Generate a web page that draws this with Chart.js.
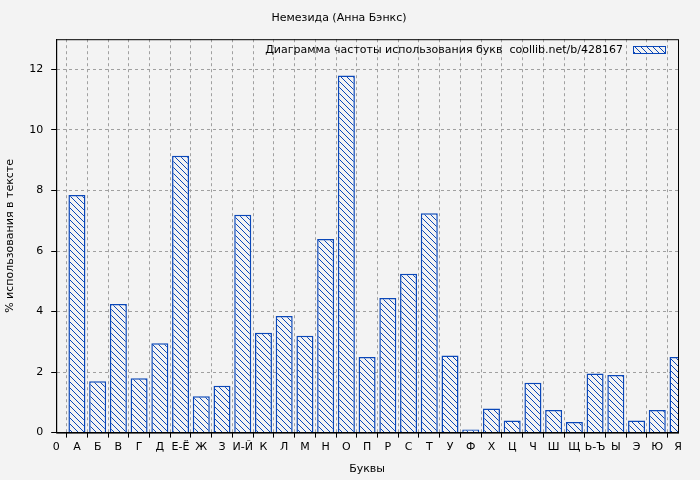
<!DOCTYPE html>
<html><head><meta charset="utf-8">
<script src="https://cdn.jsdelivr.net/npm/chart.js@4/dist/chart.umd.min.js"></script>
<style>
html,body{margin:0;padding:0;background:#f3f3f3;}
#wrap{width:700px;height:480px;position:relative;}
</style></head>
<body><div id="wrap"><canvas id="c" width="700" height="480"></canvas></div>
<script>
const letters = ["0","А","Б","В","Г","Д","Е-Ё","Ж","З","И-Й","К","Л","М","Н","О","П","Р","С","Т","У","Ф","Х","Ц","Ч","Ш","Щ","Ь-Ъ","Ы","Э","Ю","Я"];
const freq = [7.85,1.7,4.25,1.8,2.95,9.15,1.2,1.55,7.2,3.3,3.85,3.2,6.4,11.8,2.5,4.45,5.25,7.25,2.55,0.1,0.8,0.4,1.65,0.75,0.35,1.95,1.9,0.4,0.75,2.5];
const yTicks = [0,2,4,6,8,10,12];
const legendText = "Диаграмма частоты использования букв  coollib.net/b/428167";

const BLUE = "#0a47b8";
function hatch() {
  const p = document.createElement("canvas");
  p.width = 6; p.height = 6;
  const g = p.getContext("2d");
  g.fillStyle = "#f3f3f3"; g.fillRect(0, 0, 6, 6);
  g.strokeStyle = BLUE; g.lineWidth = 1;
  g.beginPath();
  g.moveTo(0, 0); g.lineTo(6, 6);
  g.moveTo(-3, 3); g.lineTo(3, 9);
  g.moveTo(3, -3); g.lineTo(9, 3);
  g.stroke();
  return document.getElementById("c").getContext("2d").createPattern(p, "repeat");
}
const pat = hatch();
const FONT = "DejaVu Sans";

const legendPlugin = {
  id: "legendBox",
  afterDraw(chart) {
    const { ctx, chartArea: a } = chart;
    ctx.save();
    ctx.font = "11px " + FONT;
    ctx.fillStyle = "#000";
    ctx.textAlign = "right"; ctx.textBaseline = "middle";
    ctx.fillText(legendText, a.right - 55, 50);
    ctx.fillStyle = pat;
    ctx.fillRect(a.right - 45, 46, 32, 7);
    ctx.strokeStyle = BLUE; ctx.lineWidth = 1;
    ctx.strokeRect(a.right - 45 + 0.5, 46.5, 32, 7);
    ctx.strokeStyle = "#000";
    ctx.strokeRect(a.left + 0.5, a.top + 0.5, a.right - a.left, a.bottom - a.top);
    ctx.restore();
  }
};

new Chart(document.getElementById("c"), {
  type: "bar",
  data: {
    datasets: [{
      data: freq.map((v, i) => ({ x: i + 1, y: v })),
      backgroundColor: pat, borderColor: BLUE, borderWidth: 1.5,
      barPercentage: 0.82, categoryPercentage: 1
    }]
  },
  options: {
    responsive: false, animation: false,
    layout: { padding: { left: 0, right: 22, top: 0, bottom: 0 } },
    plugins: {
      legend: { display: false }, tooltip: { enabled: false },
      title: { display: true, text: "Немезида (Анна Бэнкс)", color: "#000",
        font: { family: FONT, size: 11, weight: "normal" }, padding: { top: 12, bottom: 14 } }
    },
    scales: {
      x: {
        type: "linear", min: 0, max: 30, offset: false,
        grid: { color: "#a0a0a0", borderDash: [3, 3], tickColor: "#000", tickLength: 5, drawTicks: true },
        border: { color: "#000", dash: [3, 3] },
        ticks: { stepSize: 1, autoSkip: false, maxRotation: 0, color: "#000", font: { family: FONT, size: 11 },
          callback: v => letters[v] },
        title: { display: true, text: "Буквы", color: "#000", font: { family: FONT, size: 11 }, padding: { top: 6 } }
      },
      y: {
        min: 0, max: 13,
        afterBuildTicks: s => { s.ticks = yTicks.map(v => ({ value: v })); },
        grid: { color: "#a0a0a0", tickColor: "#000", tickLength: 5 },
        border: { color: "#000", dash: [3, 3] },
        ticks: { color: "#000", font: { family: FONT, size: 11 }, padding: 8 },
        title: { display: true, text: "% использования в тексте", color: "#000", font: { family: FONT, size: 11 } }
      }
    }
  },
  plugins: [legendPlugin]
});
</script></body></html>
